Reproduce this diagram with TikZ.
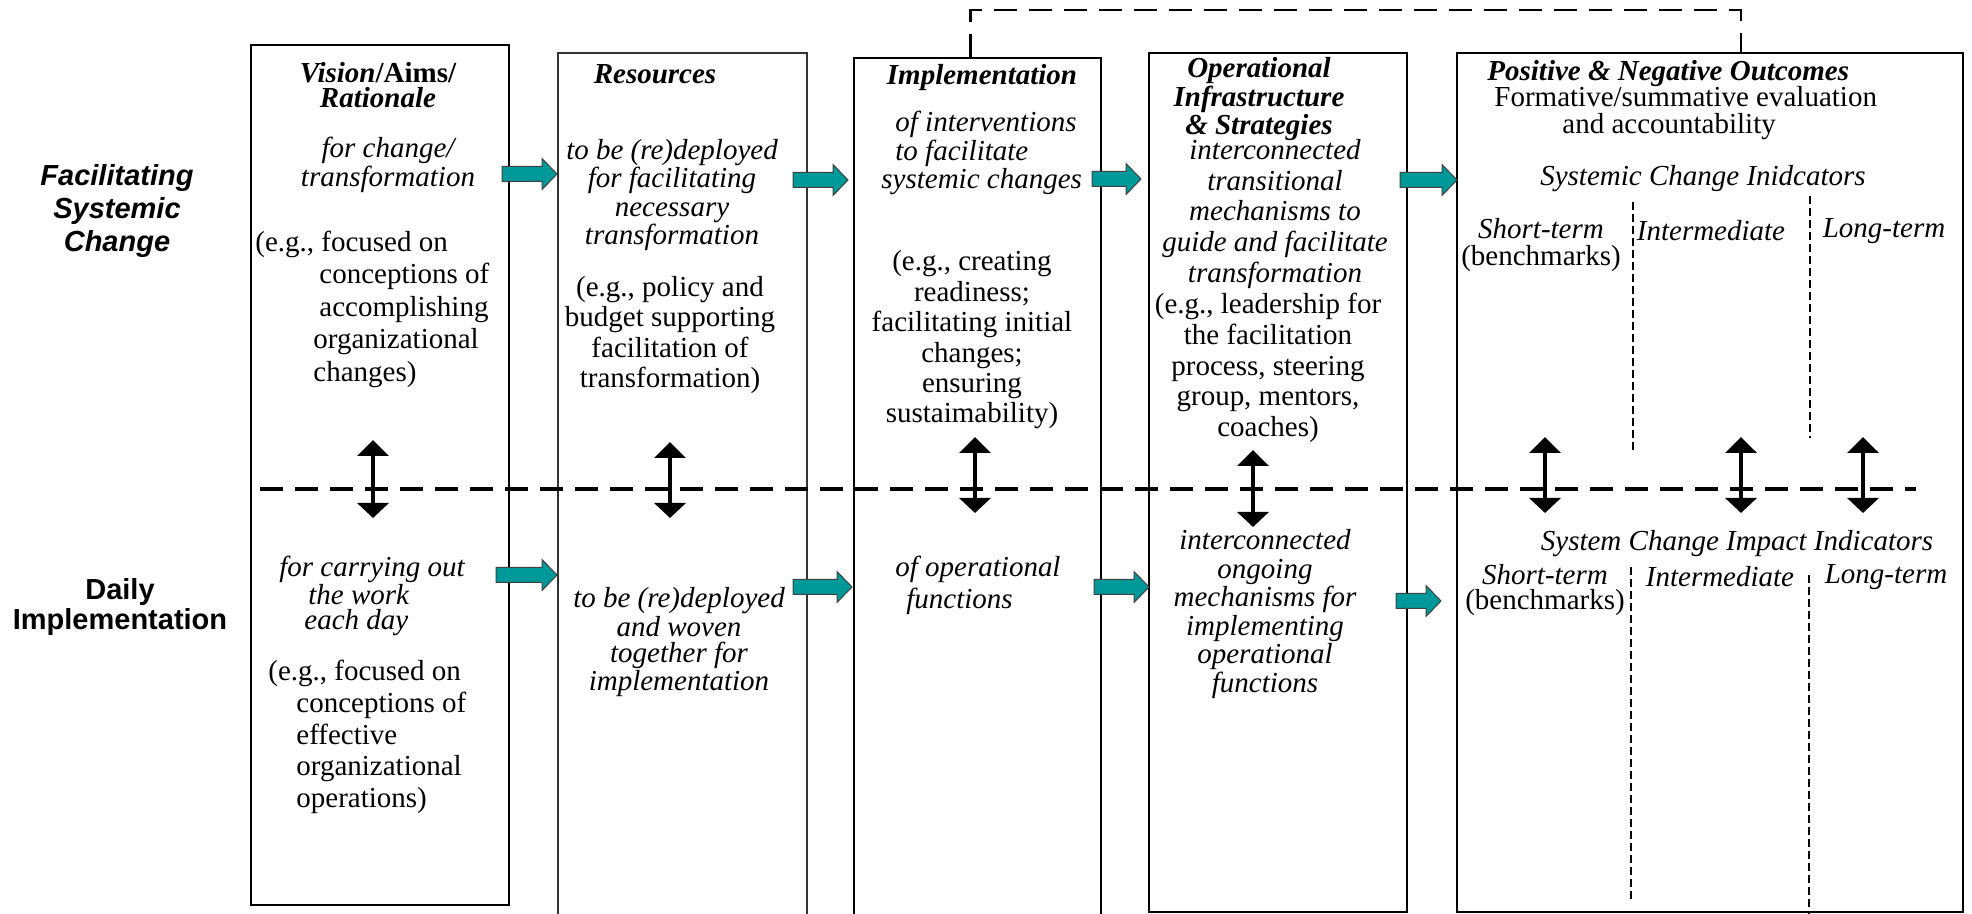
\documentclass[tikz,border=0pt]{standalone}
\usepackage{fontspec}
\setmainfont{Liberation Serif}
\newfontfamily\arialfont{Liberation Sans}
\usepackage{tikz}
\usetikzlibrary{positioning,calc,arrows.meta,fit}
\usepackage{xcolor}
\definecolor{arrowteal}{RGB}{0,153,153}
\newcommand{\fs}[1]{\fontsize{14.5}{#1}\selectfont}

\begin{document}
\begin{tikzpicture}[x=0.5pt,y=-0.5pt,
    colbox/.style={draw,line width=0.85pt,inner sep=0pt},
    txt/.style={inner sep=0pt,align=center,font=\fs{15}},
    sidelabel/.style={inner sep=0pt,align=center},
    blockarrow/.style={fill=arrowteal,draw=black!75,line width=0.5pt},
    updown/.style={line width=2.4pt,{Triangle[width=15.5pt,length=8pt]}-{Triangle[width=15.5pt,length=7.5pt]}},
    rowsplit/.style={line width=2.3pt,dash pattern=on 11.5pt off 6pt},
    termsplit/.style={line width=0.9pt,dash pattern=on 4pt off 2pt},
    loopback/.style={line width=1.3pt,dash pattern=on 11.5pt off 6pt}]

\useasboundingbox (0,0) rectangle (1972,914);
\clip (0,0) rectangle (1972,914);

% Columns
\node[colbox,fit={(251,45) (509,905)}] (vision) {};
\node[colbox,draw=black!80,fit={(558,53) (807,925)}] (resources) {};
\node[colbox,fit={(854,58) (1101,925)}] (impl) {};
\node[colbox,fit={(1149,53) (1407,912)}] (infra) {};
\node[colbox,fit={(1457,53) (1963,912)}] (outcomes) {};

% Feedback loop on top
\draw[loopback] ($(impl.north)+(-7,0)$) -- ++(0,-47) -| ($(outcomes.north)+(31,0)$);

% Row divider and term dividers
\draw[rowsplit] (260,489) -- (1916,489);
\draw[termsplit] (1633,202) -- (1633,452);
\draw[termsplit] (1810,196) -- (1810,438);
\draw[termsplit] (1631,567) -- (1631,900);
\draw[termsplit] (1809,575) -- (1809,916);

% Teal block arrows
\foreach \xa/\xb/\yy in {502/557/174, 793/848/180, 1092/1141/179, 1400/1457/180,
                         496/557/575, 793/852/587, 1094/1149/587, 1396/1441/601} {
    \draw[blockarrow] (\xa,\yy-7.5) -- (\xb-15,\yy-7.5) -- (\xb-15,\yy-15.5) -- (\xb,\yy)
        -- (\xb-15,\yy+15.5) -- (\xb-15,\yy+7.5) -- (\xa,\yy+7.5) -- cycle;
}

% Up-down arrows across the divider
\foreach \xx/\ya/\yb in {373/440/518, 670/442/518, 975/437/513, 1253/450/527,
                         1545/437/513, 1741/437/513, 1863/437/513} {
    \draw[updown] (\xx,\ya) -- (\xx,\yb);
}

% Row labels
\node[sidelabel,font=\arialfont\bfseries\itshape\fs{16.5}] (rowtop) at (117,211) {Facilitating\\Systemic\\Change};
\node[sidelabel,font=\arialfont\bfseries\fs{13.5}] (rowbottom) at (120,607) {Daily\\Implementation};

% Vision column
\node[txt,font=\bfseries\fs{12.5}] (visiontitle) at (378,85) {\textit{Vision}/Aims/\\\textit{Rationale}};
\node[txt,font=\itshape\fs{12.5}] (visionup) at (388,165) {for change/\\transformation};
\node[txt,align=left,anchor=west,font=\fs{16.25}] (visionupex) at (255,309)
    {(e.g., focused on\\\hspace*{32pt}conceptions of\\\hspace*{32pt}accomplishing\\\hspace*{29pt}organizational\\\hspace*{29pt}changes)};
\node[txt,align=left,anchor=west,font=\itshape\fs{12.5}] (visiondown) at (279,596)
    {for carrying out\\\hspace*{14.5pt}the work\\\hspace*{12.5pt}each day};
\node[txt,align=left,anchor=west,font=\fs{15.9}] (visiondownex) at (268,737)
    {(e.g., focused on\\\hspace*{14pt}conceptions of\\\hspace*{14pt}effective\\\hspace*{14pt}organizational\\\hspace*{14pt}operations)};

% Resources column
\node[txt,font=\bfseries\itshape\fs{15}] (restitle) at (655,74) {Resources};
\node[txt,font=\itshape\fs{14.2}] (resup) at (672,195) {to be (re)deployed\\for facilitating\\necessary\\transformation};
\node[txt,font=\fs{15.3}] (resupex) at (670,335) {(e.g., policy and\\budget supporting\\facilitation of\\transformation)};
\node[txt,font=\itshape\fs{13}] (resdown) at (679,642) {to be (re)deployed\\and woven\\together for\\implementation};

% Implementation column
\node[txt,font=\bfseries\itshape\fs{15}] (impltitle) at (982,78) {Implementation};
\node[txt,align=left,anchor=west,font=\itshape\fs{12.5}] (implup) at (881,153)
    {\hspace*{7pt}of interventions\\\hspace*{7pt}to facilitate\\systemic changes};
\node[txt,font=\fs{15.2}] (implupex) at (972,340) {(e.g., creating\\readiness;\\facilitating initial\\changes;\\ensuring\\sustaimability)};
\node[txt,align=left,anchor=west,font=\itshape\fs{16}] (impldown) at (895,585) {of operational\\\hspace*{5.5pt}functions};

% Operational infrastructure column
\node[txt,font=\bfseries\itshape\fs{13}] (infratitle) at (1259,99) {Operational\\Infrastructure\\\& Strategies};
\node[txt,font=\itshape\fs{15.4}] (infraup) at (1275,214) {interconnected\\transitional\\mechanisms to\\guide and facilitate\\transformation};
\node[txt,font=\fs{15.4}] (infraupex) at (1268,368) {(e.g., leadership for\\the facilitation\\process, steering\\group, mentors,\\coaches)};
\node[txt,font=\itshape\fs{14.3}] (infradown) at (1265,614) {interconnected\\ongoing\\mechanisms for\\implementing\\operational\\functions};

% Outcomes column
\node[txt,align=left,anchor=west,font=\fs{13.25}] (outtitle) at (1487,100)
    {\textbf{\textit{Positive \& Negative Outcomes}}\\\hspace*{3.5pt}Formative/summative evaluation\\\hspace*{37.5pt}and accountability};
\node[txt,font=\itshape\fs{15}] (sysind) at (1703,179) {Systemic Change Inidcators};
\node[txt,font=\fs{13.5}] (upshort) at (1541,245) {\textit{Short-term}\\(benchmarks)};
\node[txt,font=\itshape\fs{15}] (upmid) at (1711,231) {Intermediate};
\node[txt,font=\itshape\fs{15}] (uplong) at (1884,231) {Long-term};
\node[txt,font=\itshape\fs{15}] (impactind) at (1737,544) {System Change Impact Indicators};
\node[txt,font=\fs{12.5}] (downshort) at (1545,590) {\textit{Short-term}\\(benchmarks)};
\node[txt,font=\itshape\fs{15}] (downmid) at (1720,577) {Intermediate};
\node[txt,font=\itshape\fs{15}] (downlong) at (1886,577) {Long-term};

\end{tikzpicture}
\end{document}
